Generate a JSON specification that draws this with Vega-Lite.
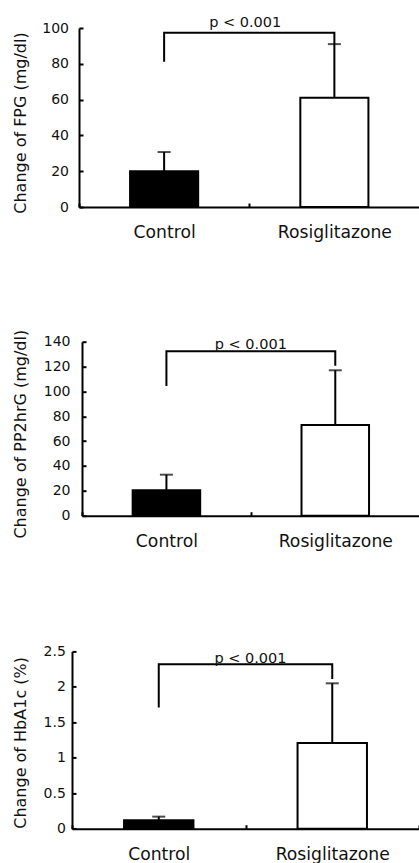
{
  "$schema": "https://vega.github.io/schema/vega-lite/v6.json",
  "padding": {"left": 11, "top": 14, "right": 0, "bottom": 0},
  "spacing": 85.7,
  "config": {
    "view": {"stroke": null},
    "font": "DejaVu Sans",
    "axis": {"grid": false, "domainColor": "black", "domainWidth": 2, "tickColor": "black", "tickWidth": 2, "tickSize": -4, "labelColor": "#111", "titleColor": "#111", "labelFont": "DejaVu Sans", "titleFont": "DejaVu Sans", "titleFontWeight": "normal", "labelOverlap": false},
    "axisX": {"labelFontSize": 17.2, "labelPadding": 20.7, "labelAngle": 0, "tickBand": "extent", "minExtent": 36},
    "axisY": {"labelFontSize": 14, "titleFontSize": 16, "tickCount": 20}
  },
  "vconcat": [
    {"spacing": 0, "hconcat": [
    {"width": 1, "height": 1, "data": {"values": []}, "mark": "point", "encoding": {}},
    {
      "width": 340.5, "height": 179,
      "data": {"values": [{"group": "Control", "mean": 20, "upper": 30.7}, {"group": "Rosiglitazone", "mean": 61, "upper": 91}]},
      "layer": [
        {"mark": {"type": "bar", "stroke": "black", "strokeWidth": 2, "width": {"band": 0.4}},
         "encoding": {
           "x": {"field": "group", "type": "nominal", "title": null, "scale": {"domain": ["Control", "Rosiglitazone"], "paddingInner": 0, "paddingOuter": 0}},
           "y": {"field": "mean", "type": "quantitative", "scale": {"domain": [0, 100], "nice": false}, "title": "Change of FPG (mg/dl)", "axis": {"values": [0, 20, 40, 60, 80, 100], "tickCount": 20, "labelPadding": 14.5, "titlePadding": 13.3, "titleY": 94.5}},
           "fill": {"field": "group", "type": "nominal", "scale": {"domain": ["Control", "Rosiglitazone"], "range": ["black", "white"]}, "legend": null}
         }},
        {"mark": {"type": "rule", "color": "black", "strokeWidth": 2},
         "encoding": {
           "x": {"field": "group", "type": "nominal", "title": null},
           "y": {"field": "mean", "type": "quantitative", "title": "Change of FPG (mg/dl)"},
           "y2": {"field": "upper"}
         }},
        {"mark": {"type": "tick", "color": "black", "size": 13, "thickness": 2},
         "encoding": {
           "x": {"field": "group", "type": "nominal", "title": null},
           "y": {"field": "upper", "type": "quantitative", "title": "Change of FPG (mg/dl)"}
         }},
        {"data": {"values": [{"group": "Control", "y": 81.2, "i": 0}, {"group": "Control", "y": 97.4, "i": 1}, {"group": "Rosiglitazone", "y": 97.4, "i": 2}, {"group": "Rosiglitazone", "y": 91, "i": 3}]},
         "mark": {"type": "line", "color": "black", "strokeWidth": 2, "strokeJoin": "miter"},
         "encoding": {
           "x": {"field": "group", "type": "nominal", "title": null},
           "y": {"field": "y", "type": "quantitative", "title": "Change of FPG (mg/dl)"},
           "order": {"field": "i", "type": "quantitative"}
         }},
        {"data": {"values": [{"group": "Control", "y": 100.6, "label": "p < 0.001"}]},
         "mark": {"type": "text", "fontSize": 14.5, "font": "DejaVu Sans", "baseline": "alphabetic", "align": "center", "color": "#111", "dx": -4},
         "encoding": {
           "x": {"field": "group", "type": "nominal", "title": null, "bandPosition": 1},
           "y": {"field": "y", "type": "quantitative", "title": "Change of FPG (mg/dl)"},
           "text": {"field": "label"}
         }}
      ]
    }]},
    {"spacing": 0, "hconcat": [
    {"width": 1, "height": 1, "data": {"values": []}, "mark": "point", "encoding": {}},
    {
      "width": 337.7, "height": 174,
      "data": {"values": [{"group": "Control", "mean": 20.5, "upper": 33}, {"group": "Rosiglitazone", "mean": 73, "upper": 117}]},
      "layer": [
        {"mark": {"type": "bar", "stroke": "black", "strokeWidth": 2, "width": {"band": 0.4}},
         "encoding": {
           "x": {"field": "group", "type": "nominal", "title": null, "scale": {"domain": ["Control", "Rosiglitazone"], "paddingInner": 0, "paddingOuter": 0}, "axis": {"minExtent": 43}},
           "y": {"field": "mean", "type": "quantitative", "scale": {"domain": [0, 140], "nice": false}, "title": "Change of PP2hrG (mg/dl)", "axis": {"values": [0, 20, 40, 60, 80, 100, 120, 140], "tickCount": 20, "labelPadding": 16, "titlePadding": 14.6, "titleY": 92}},
           "fill": {"field": "group", "type": "nominal", "scale": {"domain": ["Control", "Rosiglitazone"], "range": ["black", "white"]}, "legend": null}
         }},
        {"mark": {"type": "rule", "color": "black", "strokeWidth": 2},
         "encoding": {
           "x": {"field": "group", "type": "nominal", "title": null},
           "y": {"field": "mean", "type": "quantitative", "title": "Change of PP2hrG (mg/dl)"},
           "y2": {"field": "upper"}
         }},
        {"mark": {"type": "tick", "color": "black", "size": 13, "thickness": 2},
         "encoding": {
           "x": {"field": "group", "type": "nominal", "title": null},
           "y": {"field": "upper", "type": "quantitative", "title": "Change of PP2hrG (mg/dl)"}
         }},
        {"data": {"values": [{"group": "Control", "y": 104.4, "i": 0}, {"group": "Control", "y": 132.3, "i": 1}, {"group": "Rosiglitazone", "y": 132.3, "i": 2}, {"group": "Rosiglitazone", "y": 120.7, "i": 3}]},
         "mark": {"type": "line", "color": "black", "strokeWidth": 2, "strokeJoin": "miter"},
         "encoding": {
           "x": {"field": "group", "type": "nominal", "title": null},
           "y": {"field": "y", "type": "quantitative", "title": "Change of PP2hrG (mg/dl)"},
           "order": {"field": "i", "type": "quantitative"}
         }},
        {"data": {"values": [{"group": "Control", "y": 134.1, "label": "p < 0.001"}]},
         "mark": {"type": "text", "fontSize": 14.5, "font": "DejaVu Sans", "baseline": "alphabetic", "align": "center", "color": "#111"},
         "encoding": {
           "x": {"field": "group", "type": "nominal", "title": null, "bandPosition": 1},
           "y": {"field": "y", "type": "quantitative", "title": "Change of PP2hrG (mg/dl)"},
           "text": {"field": "label"}
         }}
      ]
    }]},
    {"spacing": 0, "hconcat": [
    {"width": 1, "height": 1, "data": {"values": []}, "mark": "point", "encoding": {}},
    {
      "width": 347, "height": 177.3,
      "data": {"values": [{"group": "Control", "mean": 0.12, "upper": 0.17}, {"group": "Rosiglitazone", "mean": 1.21, "upper": 2.05}]},
      "layer": [
        {"mark": {"type": "bar", "stroke": "black", "strokeWidth": 2, "width": {"band": 0.4}},
         "encoding": {
           "x": {"field": "group", "type": "nominal", "title": null, "scale": {"domain": ["Control", "Rosiglitazone"], "paddingInner": 0, "paddingOuter": 0}},
           "y": {"field": "mean", "type": "quantitative", "scale": {"domain": [0, 2.5], "nice": false}, "title": "Change of HbA1c (%)", "axis": {"values": [0, 0.5, 1, 1.5, 2, 2.5], "tickCount": 20, "format": "~g", "labelPadding": 10.7, "titlePadding": 15, "titleY": 91}},
           "fill": {"field": "group", "type": "nominal", "scale": {"domain": ["Control", "Rosiglitazone"], "range": ["black", "white"]}, "legend": null}
         }},
        {"mark": {"type": "rule", "color": "black", "strokeWidth": 2},
         "encoding": {
           "x": {"field": "group", "type": "nominal", "title": null},
           "y": {"field": "mean", "type": "quantitative", "title": "Change of HbA1c (%)"},
           "y2": {"field": "upper"}
         }},
        {"mark": {"type": "tick", "color": "black", "size": 13, "thickness": 2},
         "encoding": {
           "x": {"field": "group", "type": "nominal", "title": null},
           "y": {"field": "upper", "type": "quantitative", "title": "Change of HbA1c (%)"}
         }},
        {"data": {"values": [{"group": "Control", "y": 1.71, "i": 0}, {"group": "Control", "y": 2.32, "i": 1}, {"group": "Rosiglitazone", "y": 2.32, "i": 2}, {"group": "Rosiglitazone", "y": 2.11, "i": 3}]},
         "mark": {"type": "line", "color": "black", "strokeWidth": 2, "strokeJoin": "miter"},
         "encoding": {
           "x": {"field": "group", "type": "nominal", "title": null},
           "y": {"field": "y", "type": "quantitative", "title": "Change of HbA1c (%)"},
           "order": {"field": "i", "type": "quantitative"}
         }},
        {"data": {"values": [{"group": "Control", "y": 2.336, "label": "p < 0.001"}]},
         "mark": {"type": "text", "fontSize": 14.5, "font": "DejaVu Sans", "baseline": "alphabetic", "align": "center", "color": "#111", "dx": 5},
         "encoding": {
           "x": {"field": "group", "type": "nominal", "title": null, "bandPosition": 1},
           "y": {"field": "y", "type": "quantitative", "title": "Change of HbA1c (%)"},
           "text": {"field": "label"}
         }}
      ]
    }]}
  ]
}
